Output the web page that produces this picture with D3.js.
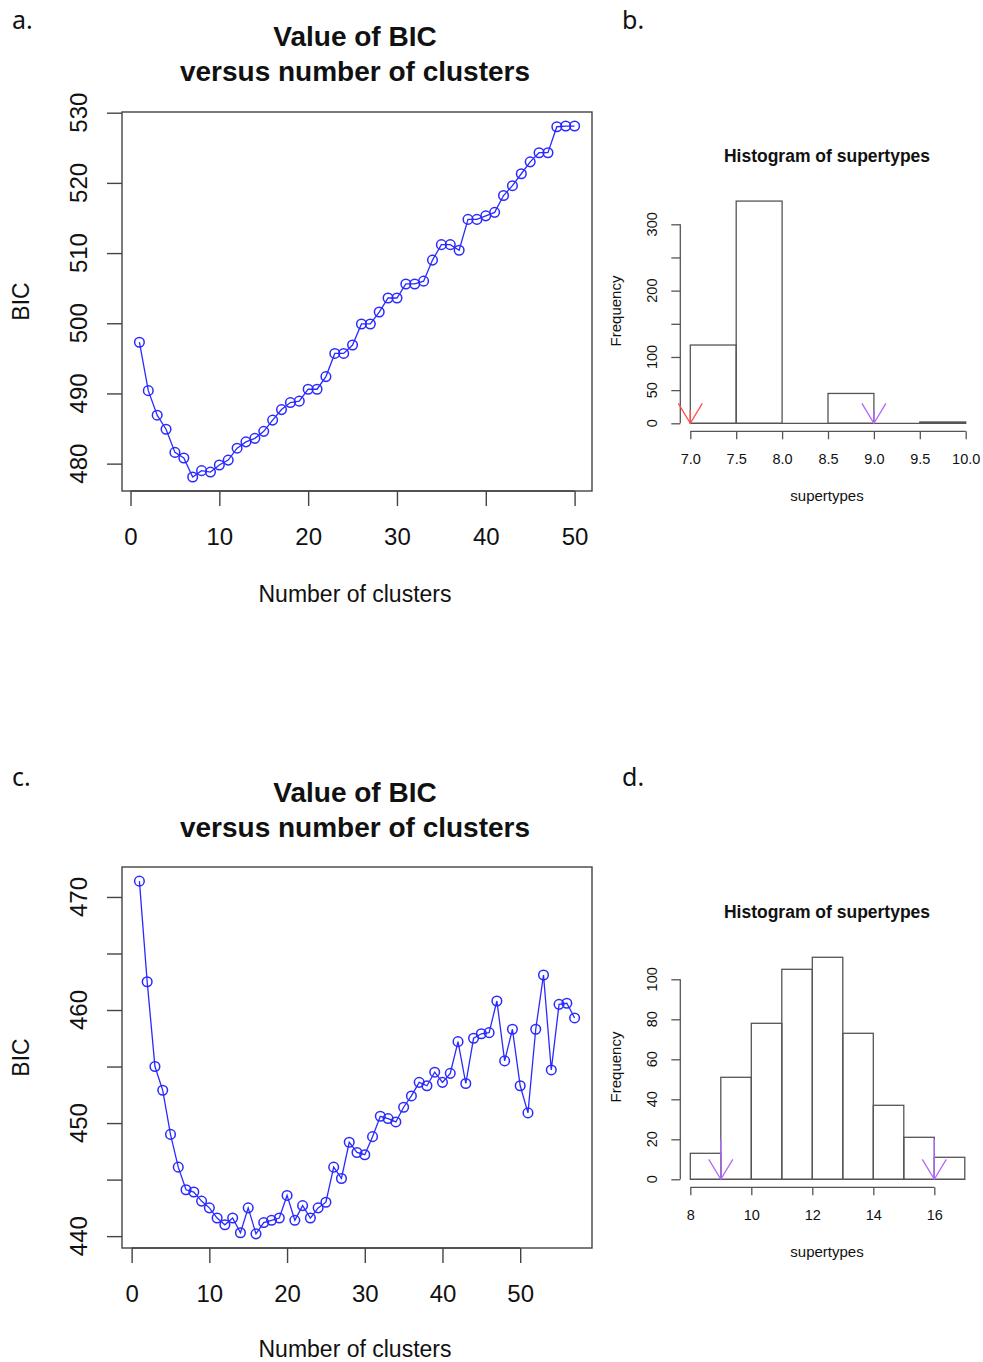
<!DOCTYPE html>
<html lang="en">
<head>
    <meta charset="UTF-8">
    <title>BIC and supertypes</title>
    <script src="https://cdn.jsdelivr.net/npm/d3@7/dist/d3.min.js"></script>
    <style>
        body { margin: 0; background: #fff; }
        svg text { font-family: "Liberation Sans", Arial, sans-serif; fill: #111; }
        .panel-label { font-family: "Noto Sans", "Open Sans", sans-serif; font-size: 25px; }
    </style>
</head>
<body>
    <svg id="chart" width="983" height="1362"></svg>
    <script>
        // BIC values (clusters 1..50)
        const bicA = [497.3, 490.4, 486.9, 484.9, 481.6, 480.8, 478.1, 479.0, 478.8, 479.8,
                      480.5, 482.2, 483.1, 483.6, 484.6, 486.2, 487.7, 488.7, 488.9, 490.6,
                      490.6, 492.4, 495.7, 495.7, 496.9, 499.9, 499.9, 501.6, 503.6, 503.6,
                      505.6, 505.6, 506.0, 509.0, 511.2, 511.2, 510.4, 514.8, 514.8, 515.3,
                      515.8, 518.2, 519.6, 521.3, 523.0, 524.3, 524.3, 528.0, 528.1, 528.1];
        const ticksXA = [0, 10, 20, 30, 40, 50];
        const ticksYA = [480, 490, 500, 510, 520, 530];

        // BIC values (clusters 1..57)
        const bicC = [471.4, 462.5, 455.0, 452.9, 449.0, 446.1, 444.1, 443.9, 443.1, 442.5,
                      441.6, 441.0, 441.6, 440.3, 442.5, 440.2, 441.2, 441.4, 441.6, 443.6,
                      441.4, 442.7, 441.6, 442.5, 443.0, 446.1, 445.1, 448.3, 447.4, 447.2,
                      448.8, 450.6, 450.4, 450.1, 451.4, 452.4, 453.6, 453.3, 454.5, 453.6,
                      454.4, 457.2, 453.5, 457.5, 457.9, 458.0, 460.8, 455.5, 458.3, 453.3,
                      450.9, 458.3, 463.1, 454.7, 460.5, 460.6, 459.3];
        const ticksXC = [0, 10, 20, 30, 40, 50];
        const ticksYC = [440, 445, 450, 455, 460, 465, 470];
        const labelsYC = [440, 450, 460, 470];

        // histogram b
        const breaksB = [7.0, 7.5, 8.0, 8.5, 9.0, 9.5, 10.0];
        const countsB = [118, 335, 0, 45, 0, 2];
        const ticksXB = [7.0, 7.5, 8.0, 8.5, 9.0, 9.5, 10.0];
        const ticksYB = [0, 50, 100, 150, 200, 250, 300];
        const labelsYB = [0, 50, 100, 200, 300];
        const arrowsB = [{ x: 7, color: "#ff4d4d" }, { x: 9, color: "#b266ff" }];

        // histogram d
        const breaksD = [8, 9, 10, 11, 12, 13, 14, 15, 16, 17];
        const countsD = [13, 51, 78, 105, 111, 73, 37, 21, 11];
        const ticksXD = [8, 10, 12, 14, 16];
        const ticksYD = [0, 20, 40, 60, 80, 100];
        const arrowsD = [{ x: 9, color: "#b266ff" }, { x: 16, color: "#b266ff" }];

        const svg = d3.select('#chart');
        const axisColor = '#444';

        function panelLabel(text, x, y) {
            svg.append('text').attr('class', 'panel-label')
                .attr('x', x).attr('y', y).text(text);
        }

        function rotatedText(g, text, x, y, size) {
            g.append('text')
                .attr('transform', `translate(${x},${y}) rotate(-90)`)
                .attr('text-anchor', 'middle')
                .attr('dy', '0.35em')
                .style('font-size', size + 'px')
                .text(text);
        }

        function bicPlot(values, box, yDomain, xTicks, yTicks, yLabels, titleY, xTitleY) {
            const g = svg.append('g');
            const x = d3.scaleLinear()
                .domain([1 - 0.04 * (values.length - 1), values.length + 0.04 * (values.length - 1)])
                .range([box.left, box.right]);
            const y = d3.scaleLinear().domain(yDomain).range([box.bottom, box.top]);

            g.append('rect')
                .attr('x', box.left).attr('y', box.top)
                .attr('width', box.right - box.left).attr('height', box.bottom - box.top)
                .attr('fill', 'none').attr('stroke', axisColor).attr('stroke-width', 1.4);

            // x axis, R style: line only from first to last tick
            const xAxis = g.append('g').attr('transform', `translate(0,${box.bottom})`)
                .call(d3.axisBottom(x).tickValues(xTicks).tickSize(15).tickPadding(22).tickSizeOuter(0));
            xAxis.select('.domain').remove();
            xAxis.selectAll('line').attr('stroke', axisColor).attr('stroke-width', 1.4);
            xAxis.selectAll('text').style('font-size', '24px').attr('fill', '#111');
            g.append('line')
                .attr('x1', x(xTicks[0])).attr('x2', x(xTicks[xTicks.length - 1]))
                .attr('y1', box.bottom).attr('y2', box.bottom)
                .attr('stroke', axisColor).attr('stroke-width', 1.4);

            const yAxis = g.append('g').attr('transform', `translate(${box.left},0)`)
                .call(d3.axisLeft(y).tickValues(yTicks).tickSize(15).tickFormat(''));
            yAxis.select('.domain').remove();
            yAxis.selectAll('line').attr('stroke', axisColor).attr('stroke-width', 1.4);
            yLabels.forEach(v => rotatedText(g, v, box.left - 43, y(v), 24));

            const line = d3.line().x((d, i) => x(i + 1)).y(d => y(d));
            g.append('path').datum(values)
                .attr('d', line).attr('fill', 'none')
                .attr('stroke', '#2a2aff').attr('stroke-width', 1.3);
            g.selectAll('circle.pt').data(values).enter().append('circle')
                .attr('class', 'pt')
                .attr('cx', (d, i) => x(i + 1)).attr('cy', d => y(d)).attr('r', 4.8)
                .attr('fill', 'none').attr('stroke', '#2a2aff').attr('stroke-width', 1.5);

            const cx = (box.left + box.right) / 2 - 2;
            g.append('text').attr('x', cx).attr('y', titleY).attr('text-anchor', 'middle')
                .style('font-size', '28px').style('font-weight', 'bold').text('Value of BIC');
            g.append('text').attr('x', cx).attr('y', titleY + 35).attr('text-anchor', 'middle')
                .style('font-size', '28px').style('font-weight', 'bold').text('versus number of clusters');
            g.append('text').attr('x', cx).attr('y', xTitleY).attr('text-anchor', 'middle')
                .style('font-size', '23px').text('Number of clusters');
            rotatedText(g, 'BIC', 21, (box.top + box.bottom) / 2, 23);
        }

        function histPlot(breaks, counts, frame, xTicks, yTicks, yLabels, arrows) {
            const g = svg.append('g');
            const x = d3.scaleLinear().domain(frame.xDomain).range(frame.xRange);
            const y = d3.scaleLinear().domain(frame.yDomain).range(frame.yRange);
            const base = y(0);

            g.selectAll('rect.bar').data(counts).enter().append('rect')
                .attr('class', 'bar')
                .attr('x', (d, i) => x(breaks[i]))
                .attr('width', (d, i) => x(breaks[i + 1]) - x(breaks[i]))
                .attr('y', d => y(d))
                .attr('height', d => base - y(d))
                .attr('fill', 'none').attr('stroke', '#555').attr('stroke-width', 1.3);
            g.append('line')
                .attr('x1', x(breaks[0])).attr('x2', x(breaks[breaks.length - 1]))
                .attr('y1', base).attr('y2', base)
                .attr('stroke', '#555').attr('stroke-width', 1.3);

            const axisY = base + 8;
            const xAxis = g.append('g').attr('transform', `translate(0,${axisY})`)
                .call(d3.axisBottom(x).tickValues(xTicks).tickSize(8).tickPadding(14)
                    .tickFormat(frame.xFormat));
            xAxis.select('.domain').remove();
            xAxis.selectAll('line').attr('stroke', '#555').attr('stroke-width', 1.3);
            xAxis.selectAll('text').style('font-size', '14.5px').attr('fill', '#222');
            g.append('line')
                .attr('x1', x(xTicks[0])).attr('x2', x(xTicks[xTicks.length - 1]))
                .attr('y1', axisY).attr('y2', axisY)
                .attr('stroke', '#555').attr('stroke-width', 1.3);

            const axisX = frame.xRange[0] - 10;
            const yAxis = g.append('g').attr('transform', `translate(${axisX},0)`)
                .call(d3.axisLeft(y).tickValues(yTicks).tickSize(9).tickFormat(''));
            yAxis.select('.domain').remove();
            yAxis.selectAll('line').attr('stroke', '#555').attr('stroke-width', 1.3);
            g.append('line')
                .attr('x1', axisX).attr('x2', axisX)
                .attr('y1', y(yTicks[0])).attr('y2', y(yTicks[yTicks.length - 1]))
                .attr('stroke', '#555').attr('stroke-width', 1.3);
            yLabels.forEach(v => rotatedText(g, v, axisX - 28, y(v), 14.5));

            // arrows from 20 down to 0
            arrows.forEach(a => {
                const ax = x(a.x), y0 = y(20), y1 = base;
                const ag = g.append('g').attr('stroke', a.color).attr('stroke-width', 1.3).attr('fill', 'none');
                ag.append('line').attr('x1', ax).attr('x2', ax).attr('y1', y0).attr('y2', y1);
                ag.append('path').attr('d', `M${ax - 12},${y1 - 20}L${ax},${y1}L${ax + 12},${y1 - 20}`);
            });

            const cx = frame.titleX;
            g.append('text').attr('x', cx).attr('y', frame.titleY).attr('text-anchor', 'middle')
                .style('font-size', '17.5px').style('font-weight', 'bold').text('Histogram of supertypes');
            g.append('text').attr('x', cx).attr('y', axisY + 70).attr('text-anchor', 'middle')
                .style('font-size', '15px').text('supertypes');
            rotatedText(g, 'Frequency', 616, frame.freqY, 15);
        }

        panelLabel('a.', 12, 29);
        panelLabel('b.', 622, 29);
        panelLabel('c.', 12, 786);
        panelLabel('d.', 622, 786);

        bicPlot(bicA, { left: 122, right: 592, top: 112, bottom: 491 },
            [476.1, 530.1], ticksXA, ticksYA, ticksYA, 46, 602);
        bicPlot(bicC, { left: 122, right: 592, top: 867, bottom: 1248 },
            [438.95, 472.65], ticksXC, ticksYC, labelsYC, 802, 1357);

        histPlot(breaksB, countsB, {
            xDomain: [7, 10], xRange: [690.3, 965.7],
            yDomain: [0, 300], yRange: [423.3, 224.3],
            xFormat: d3.format('.1f'), titleX: 827, titleY: 162, freqY: 311
        }, ticksXB, ticksYB, labelsYB, arrowsB);

        histPlot(breaksD, countsD, {
            xDomain: [8, 16], xRange: [690.3, 934.3],
            yDomain: [0, 100], yRange: [1179.3, 979.3],
            xFormat: d3.format('d'), titleX: 827, titleY: 918, freqY: 1067
        }, ticksXD, ticksYD, ticksYD, arrowsD);
    </script>
</body>
</html>
